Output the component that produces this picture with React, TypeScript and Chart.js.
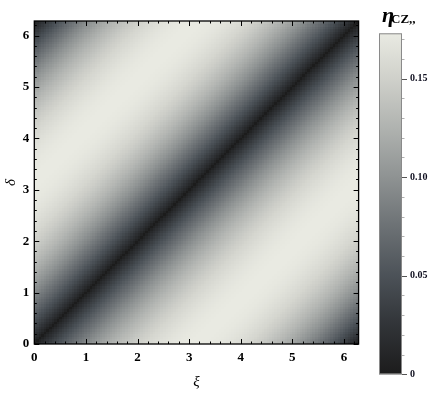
import React, { useEffect, useRef } from 'react';
import { Chart, registerables } from 'chart.js';
Chart.register(...registerables);

const TWO_PI = 6.283185307179586;
// eta_CZ'' read along |ξ-δ|, from 0 to π in steps of 2π/128 (the plot repeats with period 2π)
const PROFILE = [0, 0.0074, 0.0133, 0.0188, 0.0240, 0.0290, 0.0339, 0.0385, 0.0431, 0.0476, 0.0520, 0.0563, 0.0605, 0.0646, 0.0686, 0.0726, 0.0765, 0.0803, 0.0840, 0.0877, 0.0913, 0.0948, 0.0983, 0.1017, 0.1050, 0.1082, 0.1114, 0.1145, 0.1175, 0.1205, 0.1233, 0.1261, 0.1289, 0.1315, 0.1341, 0.1366, 0.1390, 0.1413, 0.1436, 0.1458, 0.1479, 0.1499, 0.1518, 0.1537, 0.1555, 0.1572, 0.1588, 0.1603, 0.1617, 0.1631, 0.1644, 0.1655, 0.1666, 0.1677, 0.1686, 0.1694, 0.1702, 0.1708, 0.1714, 0.1719, 0.1723, 0.1726, 0.1728, 0.1729, 0.1730];
const X_TICKS = [0, 1, 2, 3, 4, 5, 6];
const Y_TICKS = [0, 1, 2, 3, 4, 5, 6];
const CB_TICKS = [0, 0.05, 0.1, 0.15];
const CB_MIN = 0;
const CB_MAX = 0.173;
const X_TITLE = 'ξ';
const Y_TITLE = 'δ';
const CB_TITLE_MAIN = 'η';
const CB_TITLE_SUB = 'CZ,,';

const CMAP_POS = [0, 0.15, 0.29, 0.45, 0.58, 0.72, 0.87, 1];
const CMAP_COL = [
  [28, 28, 28], [50, 53, 57], [76, 82, 88], [112, 117, 120],
  [143, 147, 147], [175, 178, 175], [208, 209, 203], [233, 234, 226],
];

function cmap(t: number): string {
  const u = Math.max(0, Math.min(1, t));
  for (let i = 1; i < CMAP_POS.length; i++) {
    if (u <= CMAP_POS[i]) {
      const a = CMAP_POS[i - 1], b = CMAP_POS[i];
      const f = (u - a) / (b - a);
      const c0 = CMAP_COL[i - 1], c1 = CMAP_COL[i];
      const r = Math.round(c0[0] + (c1[0] - c0[0]) * f);
      const g = Math.round(c0[1] + (c1[1] - c0[1]) * f);
      const bl = Math.round(c0[2] + (c1[2] - c0[2]) * f);
      return `rgb(${r},${g},${bl})`;
    }
  }
  const c = CMAP_COL[CMAP_COL.length - 1];
  return `rgb(${c[0]},${c[1]},${c[2]})`;
}

const HALF = PROFILE.length - 1;
const N = HALF * 2;
const H = TWO_PI / N;
type Cell = { x: number; y: number; v: number };
const CELLS: Cell[] = [];
for (let i = 0; i < N; i++) {
  for (let j = 0; j < N; j++) {
    let k = Math.abs(i - j);
    if (k > HALF) k = N - k;
    CELLS.push({ x: (i + 0.5) * H, y: (j + 0.5) * H, v: PROFILE[k] });
  }
}

const SERIF = '"Liberation Serif", "Times New Roman", serif';

const heatPlugin = {
  id: 'heat',
  beforeDatasetsDraw(chart: any) {
    const { ctx, chartArea } = chart;
    const xs = chart.scales.x, ys = chart.scales.y;
    const data = chart.data.datasets[0].data as Cell[];
    ctx.save();
    ctx.beginPath();
    ctx.rect(chartArea.left, chartArea.top, chartArea.right - chartArea.left, chartArea.bottom - chartArea.top);
    ctx.clip();
    for (const c of data) {
      const x0 = Math.floor(xs.getPixelForValue(c.x - H / 2));
      const x1 = Math.ceil(xs.getPixelForValue(c.x + H / 2));
      const y0 = Math.ceil(ys.getPixelForValue(c.y - H / 2));
      const y1 = Math.floor(ys.getPixelForValue(c.y + H / 2));
      ctx.fillStyle = cmap((c.v - CB_MIN) / (CB_MAX - CB_MIN));
      ctx.fillRect(x0, y1, x1 - x0, y0 - y1);
    }
    ctx.restore();
  },
  afterDraw(chart: any) {
    const { ctx, chartArea } = chart;
    const xs = chart.scales.x, ys = chart.scales.y;
    const { left, right, top, bottom } = chartArea;
    ctx.save();
    ctx.strokeStyle = '#000';
    ctx.lineWidth = 1;
    // frame ticks: major every 1, minor every 0.2
    for (let m = 0; m * 0.2 <= TWO_PI + 1e-9; m++) {
      const v = m * 0.2;
      const major = m % 5 === 0;
      const len = major ? 5 : 2.5;
      const px = Math.round(xs.getPixelForValue(v)) + 0.5;
      const py = Math.round(ys.getPixelForValue(v)) + 0.5;
      ctx.beginPath();
      ctx.moveTo(px, bottom); ctx.lineTo(px, bottom - len);
      ctx.moveTo(px, top); ctx.lineTo(px, top + len);
      ctx.moveTo(left, py); ctx.lineTo(left + len, py);
      ctx.moveTo(right, py); ctx.lineTo(right - len, py);
      ctx.stroke();
    }
    ctx.lineWidth = 1.3;
    ctx.strokeRect(left, top, right - left, bottom - top);
    // axis titles
    ctx.fillStyle = '#000';
    ctx.font = `italic 15px ${SERIF}`;
    ctx.textAlign = 'center';
    ctx.textBaseline = 'middle';
    ctx.fillText(X_TITLE, (left + right) / 2, 382);
    ctx.translate(11, (top + bottom) / 2);
    ctx.rotate(-Math.PI / 2);
    ctx.fillText(Y_TITLE, 0, 0);
    ctx.restore();
  },
};

const cbPlugin = {
  id: 'cbar',
  beforeDatasetsDraw(chart: any) {
    const { ctx, chartArea } = chart;
    const ys = chart.scales.y;
    const { left, right } = chartArea;
    const yb = ys.getPixelForValue(CB_MIN);
    const yt = ys.getPixelForValue(CB_MAX);
    const g = ctx.createLinearGradient(0, yb, 0, yt);
    for (let i = 0; i < CMAP_POS.length; i++) {
      const c = CMAP_COL[i];
      g.addColorStop(CMAP_POS[i], `rgb(${c[0]},${c[1]},${c[2]})`);
    }
    ctx.save();
    ctx.fillStyle = g;
    ctx.fillRect(left, yt, right - left, yb - yt);
    ctx.strokeStyle = '#8a8a8a';
    ctx.lineWidth = 1;
    ctx.strokeRect(left + 0.5, yt + 0.5, right - left - 1, yb - yt - 1);
    // ticks
    for (let m = 0; m * 0.01 <= CB_MAX + 1e-9; m++) {
      const v = m * 0.01;
      const major = m % 5 === 0;
      const py = Math.round(ys.getPixelForValue(v)) + 0.5;
      ctx.strokeStyle = major ? '#555' : '#b0b0b0';
      ctx.beginPath();
      ctx.moveTo(right, py);
      ctx.lineTo(right + (major ? 5 : 2.5), py);
      ctx.stroke();
    }
    // title
    ctx.fillStyle = '#000';
    ctx.textBaseline = 'alphabetic';
    ctx.textAlign = 'left';
    ctx.font = `italic bold 22px ${SERIF}`;
    ctx.fillText(CB_TITLE_MAIN, 22, 22);
    ctx.font = `bold 13px ${SERIF}`;
    ctx.fillText(CB_TITLE_SUB, 31, 23);
    ctx.restore();
  },
};

export default function App() {
  const mainRef = useRef<HTMLCanvasElement>(null);
  const cbRef = useRef<HTMLCanvasElement>(null);

  useEffect(() => {
    const tickFont = { family: SERIF, size: 13, weight: 'bold' as const };
    const main = new Chart(mainRef.current as HTMLCanvasElement, {
      type: 'scatter',
      data: { datasets: [{ data: CELLS as any, pointRadius: 0, pointHoverRadius: 0 }] },
      options: {
        responsive: false,
        animation: false,
        events: [],
        layout: { padding: { left: 0, top: 21, right: 74.4, bottom: 0 } },
        plugins: { legend: { display: false }, tooltip: { enabled: false } },
        scales: {
          x: {
            type: 'linear', min: 0, max: TWO_PI,
            grid: { display: false, drawTicks: false },
            border: { display: false },
            afterBuildTicks: (s: any) => { s.ticks = X_TICKS.map((v) => ({ value: v })); },
            afterFit: (s: any) => { s.height = 67; },
            ticks: { padding: 6, font: tickFont, color: '#000', maxRotation: 0, autoSkip: false, callback: (v: any) => String(v) },
          },
          y: {
            type: 'linear', min: 0, max: TWO_PI,
            grid: { display: false, drawTicks: false },
            border: { display: false },
            afterBuildTicks: (s: any) => { s.ticks = Y_TICKS.map((v) => ({ value: v })); },
            afterFit: (s: any) => { s.width = 34.3; },
            ticks: { padding: 5, font: tickFont, color: '#000', autoSkip: false, callback: (v: any) => String(v) },
          },
        },
      } as any,
      plugins: [heatPlugin],
    });

    const cb = new Chart(cbRef.current as HTMLCanvasElement, {
      type: 'scatter',
      data: { datasets: [] },
      options: {
        responsive: false,
        animation: false,
        events: [],
        layout: { padding: { left: 19, top: 33.3, right: 0, bottom: 36.7 } },
        plugins: { legend: { display: false }, tooltip: { enabled: false } },
        scales: {
          x: { display: false, min: 0, max: 1 },
          y: {
            type: 'linear', position: 'right', min: CB_MIN, max: CB_MAX,
            grid: { display: false, drawTicks: false },
            border: { display: false },
            afterBuildTicks: (s: any) => { s.ticks = CB_TICKS.map((v) => ({ value: v })); },
            afterFit: (s: any) => { s.width = 31; },
            ticks: {
              padding: 8, color: '#101020', autoSkip: false,
              font: { family: SERIF, size: 10, weight: 'bold' },
              callback: (v: any) => (Number(v) === 0 ? '0' : Number(v).toFixed(2)),
            },
          },
        },
      } as any,
      plugins: [cbPlugin],
    });

    return () => { main.destroy(); cb.destroy(); };
  }, []);

  return (
    <div style={{ position: 'fixed', left: 0, top: 0, width: 433, height: 411, background: '#fff' }}>
      <canvas ref={mainRef} width={433} height={411} style={{ position: 'absolute', left: 0, top: 0, width: 433, height: 411 }} />
      <canvas ref={cbRef} width={73} height={411} style={{ position: 'absolute', left: 360, top: 0, width: 73, height: 411 }} />
    </div>
  );
}
